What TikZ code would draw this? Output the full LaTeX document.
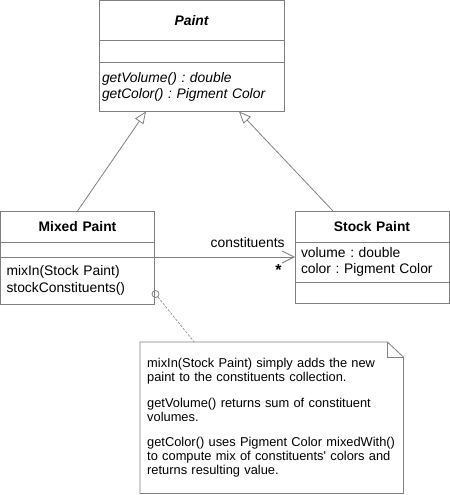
\documentclass[tikz,border=0pt]{standalone}
\usepackage{fontspec}
\setmainfont{Liberation Sans}
\usetikzlibrary{positioning}
\usetikzlibrary{arrows.meta}
\frenchspacing
\definecolor{linegray}{RGB}{128,128,128}
\newcommand{\classfont}{\fontsize{13.9}{16.5}\selectfont}
\newcommand{\notefont}{\fontsize{12.9}{14}\selectfont}
\tikzset{
part/.style = {draw=linegray, line width=0.8pt, inner ysep=0pt, outer sep=0pt, align=left, font=\classfont},
title/.style = {part, align=center, font=\classfont\bfseries},
gen/.style = {draw=linegray, line width=0.8pt, -{Triangle[open, fill=white, length=12bp, width=10bp]}},
assoc/.style = {draw=linegray, line width=0.8pt, -{Straight Barb[length=12bp, width=12bp]}},
notebox/.style = {draw=linegray, line width=0.8pt}
}

\begin{document}
\begin{tikzpicture}[x=1bp, y=-1bp]
    \useasboundingbox (0,0) rectangle (450,495);
    % Paint class
    \node [title, text width=179bp, inner xsep=3bp, minimum height=40bp, anchor=north west] (paint) at (99,0.5) {\itshape Paint};
    \node [part, text width=179bp, inner xsep=3bp, minimum height=22bp, below=0pt of paint] (paintattr) {};
    \node [part, text width=179bp, inner xsep=3bp, minimum height=49bp, below=0pt of paintattr, font=\classfont\itshape] (paintops) {getVolume() : double\\getColor() : Pigment Color};

    % Mixed Paint class
    \node [title, text width=142bp, inner xsep=6bp, minimum height=31bp, anchor=north west] (mixed) at (0.5,211) {Mixed Paint};
    \node [part, text width=142bp, inner xsep=6bp, minimum height=15bp, below=0pt of mixed] (mixedattr) {};
    \node [part, text width=142bp, inner xsep=6bp, minimum height=47bp, below=0pt of mixedattr] (mixedops) {mixIn(Stock Paint)\\stockConstituents()};

    % Stock Paint class
    \node [title, text width=142bp, inner xsep=6bp, minimum height=31bp, anchor=north west] (stock) at (295,211) {Stock Paint};
    \node [part, text width=142bp, inner xsep=6bp, minimum height=40bp, below=0pt of stock] (stockattr) {volume : double\\color : Pigment Color};
    \node [part, text width=142bp, inner xsep=6bp, minimum height=21bp, below=0pt of stockattr] (stockops) {};

    % generalizations
    \draw [gen] (mixed.north) -- ([xshift=-45.5bp]paintops.south);
    \draw [gen] ([xshift=-39bp]stock.north) -- ([xshift=47.5bp]paintops.south);

    % association
    \draw [assoc] (mixedops.north east) -- (stockattr.west |- mixedops.north east)
        node [pos=1, anchor=base east, xshift=-10bp, yshift=9.5bp, font=\classfont, inner sep=0pt] {constituents}
        node [pos=1, anchor=north east, xshift=-13bp, yshift=-7bp, font=\fontsize{16}{16}\selectfont\bfseries, inner sep=0pt] {*};

    % note
    \node [circle, draw=linegray, line width=0.8pt, minimum size=7bp, inner sep=0pt] (notepin) at ([xshift=1bp, yshift=10bp]mixedops.south east) {};
    \node [minimum width=263bp, minimum height=151bp, text width=249bp, inner xsep=7bp, align=left, font=\notefont, anchor=north west] (note) at (140,342)
        {mixIn(Stock Paint) simply adds the new\\paint to the constituents collection.\\[12bp]getVolume() returns sum of constituent\\volumes.\\[12bp]getColor() uses Pigment Color mixedWith()\\to compute mix of constituents\textquotesingle{} colors and\\returns resulting value.};
    \draw [notebox] (note.north west) -- ([xshift=-16bp]note.north east) -- ([yshift=-15bp]note.north east) -- (note.south east) -- (note.south west) -- cycle;
    \draw [notebox] ([xshift=-16bp]note.north east) |- ([yshift=-15bp]note.north east);
    \draw [draw=linegray, line width=0.6pt, dash pattern=on 2.5bp off 1.5bp] (notepin) -- ([xshift=-77.5bp]note.north);
\end{tikzpicture}
\end{document}
